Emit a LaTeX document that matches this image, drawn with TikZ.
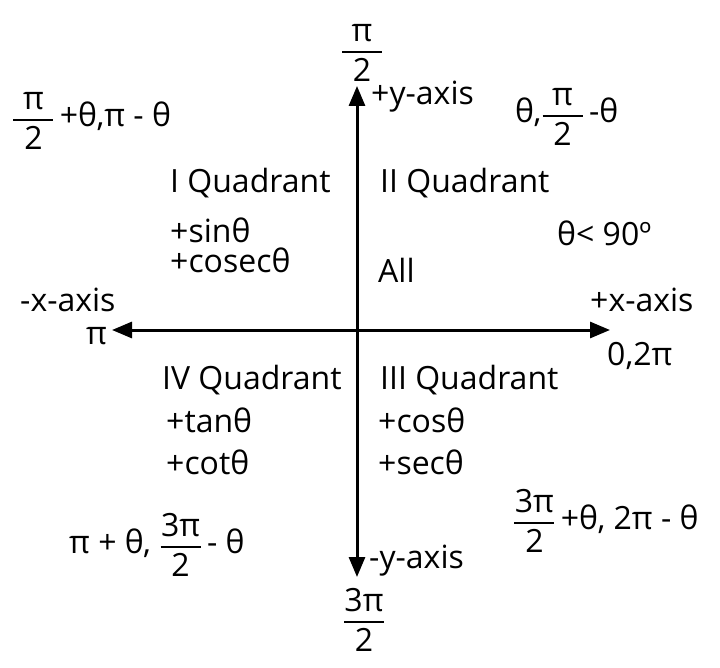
\documentclass[tikz,border=0pt]{standalone}
\usepackage{amsmath}
\usepackage{fontspec}
\setmainfont{Open Sans}
\usetikzlibrary{arrows.meta}
\newcommand\fr[2]{$\genfrac{}{}{1.8pt}{0}{\makebox[40pt]{#1}}{\makebox[40pt]{#2}}$}
\begin{document}
\begin{tikzpicture}[x=1pt,y=-1pt,
  lbl/.style={font=\fontsize{32}{38}\selectfont, inner sep=0pt, anchor=west},
  axis/.style={line width=3pt, {Triangle[length=20pt,width=16pt]}-{Triangle[length=20pt,width=16pt]}}]
\useasboundingbox[fill=white] (0,0) rectangle (720,668);
% axes
\coordinate (top) at (357,86);
\coordinate (bot) at (357,577);
\coordinate (lft) at (112,330);
\coordinate (rgt) at (610,330);
\draw[axis] (bot) -- (top);
\draw[axis] (lft) -- (rgt);
% axis labels
\node[lbl, anchor=center] (ptop) at (362,53) {\fr{π}{2}};
\node[lbl] (yp) at (371,97) {+y-axis};
\node[lbl] (xm) at (20,300) {-x-axis};
\node[lbl, anchor=east] (pi) at (107,336) {π};
\node[lbl] (xp) at (590,300) {+x-axis};
\node[lbl] (zero) at (607,356) {0,2π};
\node[lbl] (ym) at (369,561) {-y-axis};
\node[lbl, anchor=center] (pbot) at (364,620) {\fr{3π}{2}};
% angle expressions
\node[lbl] (a1) at (12,121) {\fr{π}{2}\,+θ,π - θ};
\node[lbl] (a2) at (515,117) {θ,\fr{π}{2}\,-θ};
\node[lbl] (a3) at (69,545) {π + θ, \fr{3π}{2}\,- θ};
\node[lbl] (a4) at (513,521) {\fr{3π}{2}\,+θ, 2π - θ};
% quadrants
\node[lbl] (q1) at (170,183) {I Quadrant};
\node[lbl] (q1a) at (170,230) {+sinθ};
\node[lbl] (q1b) at (170,260) {+cosecθ};
\node[lbl] (q2) at (380,183) {II Quadrant};
\node[lbl] (q2a) at (378,270) {All};
\node[lbl] (t90) at (557,233) {θ< 90º};
\node[lbl] (q4) at (162,380) {IV Quadrant};
\node[lbl] (q4a) at (166,420) {+tanθ};
\node[lbl] (q4b) at (166,462) {+cotθ};
\node[lbl] (q3) at (380,380) {III Quadrant};
\node[lbl] (q3a) at (378,420) {+cosθ};
\node[lbl] (q3b) at (378,462) {+secθ};
\end{tikzpicture}
\end{document}
